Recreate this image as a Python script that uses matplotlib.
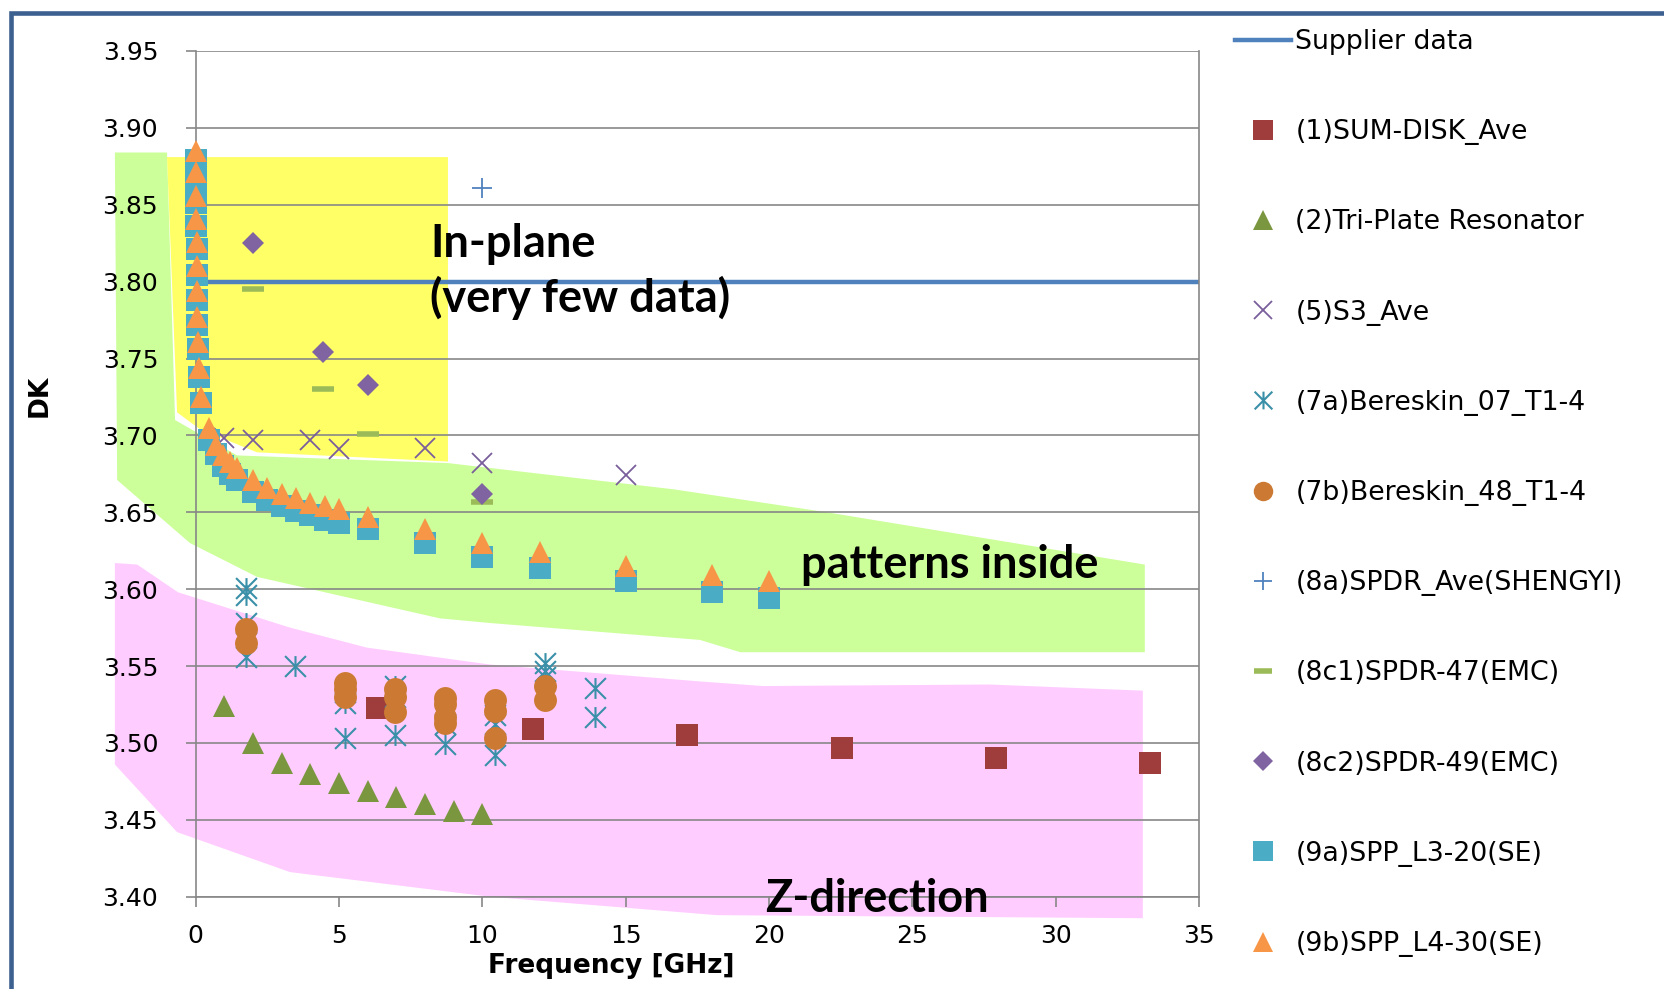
import matplotlib
matplotlib.use("Agg")
import matplotlib.pyplot as plt
from matplotlib.patches import Polygon, Rectangle
from matplotlib.path import Path

# ============================ Data ============================
supplier_f = [0, 35]
supplier_dk = [3.80, 3.80]

sum_disk_f = [6.33, 11.78, 17.15, 22.53, 27.91, 33.29]
sum_disk_dk = [3.523, 3.509, 3.505, 3.497, 3.490, 3.487]

triplate_f = [1, 2, 3, 4, 5, 6, 7, 8, 9, 10]
triplate_dk = [3.524, 3.500, 3.487, 3.480, 3.474, 3.469, 3.465, 3.460, 3.456, 3.454]

s3_f = [1, 2, 4, 5, 8, 10, 15]
s3_dk = [3.698, 3.697, 3.697, 3.691, 3.692, 3.682, 3.674]

ber07_f = [1.74, 1.74, 1.74, 1.74, 3.48, 5.22, 5.22, 5.22, 6.96, 6.96, 6.96,
           8.70, 8.70, 8.70, 10.44, 10.44, 10.44, 12.18, 12.18, 12.18, 13.92, 13.92]
ber07_dk = [3.601, 3.596, 3.578, 3.556, 3.550, 3.533, 3.526, 3.503, 3.537, 3.530, 3.505,
            3.522, 3.512, 3.499, 3.518, 3.512, 3.492, 3.552, 3.547, 3.543, 3.536, 3.517]

ber48_f = [1.74, 1.74, 5.22, 5.22, 5.22, 6.96, 6.96, 6.96,
           8.70, 8.70, 8.70, 8.70, 10.44, 10.44, 10.44, 12.18, 12.18]
ber48_dk = [3.574, 3.565, 3.539, 3.535, 3.530, 3.535, 3.530, 3.520,
            3.529, 3.525, 3.517, 3.513, 3.528, 3.521, 3.503, 3.537, 3.528]

spdr_sy_f = [10]
spdr_sy_dk = [3.861]

spdr47_f = [2, 4.45, 6, 10]
spdr47_dk = [3.795, 3.730, 3.701, 3.657]

spdr49_f = [2, 4.45, 6, 10]
spdr49_dk = [3.825, 3.754, 3.733, 3.662]

spp_f = [0.01, 0.015, 0.02, 0.025, 0.03, 0.04, 0.05, 0.06, 0.08, 0.1, 0.2,
         0.45, 0.7, 0.95, 1.2, 1.45, 2, 2.5, 3, 3.5, 4, 4.5, 5, 6, 8, 10, 12, 15, 18, 20]
spp_l3_dk = [3.879, 3.865, 3.851, 3.836, 3.821, 3.804, 3.788, 3.772, 3.756, 3.738, 3.721,
             3.697, 3.688, 3.680, 3.675, 3.671, 3.663, 3.658, 3.654, 3.651, 3.648, 3.645,
             3.643, 3.639, 3.630, 3.621, 3.614, 3.605, 3.598, 3.594]
spp_l4_dk = [3.885, 3.871, 3.856, 3.841, 3.826, 3.810, 3.794, 3.777, 3.761, 3.744, 3.725,
             3.705, 3.694, 3.687, 3.683, 3.679, 3.671, 3.666, 3.662, 3.659, 3.656, 3.654,
             3.652, 3.647, 3.639, 3.630, 3.624, 3.615, 3.609, 3.605]

labels = ["Supplier data", "(1)SUM-DISK_Ave", "(2)Tri-Plate Resonator", "(5)S3_Ave",
          "(7a)Bereskin_07_T1-4", "(7b)Bereskin_48_T1-4", "(8a)SPDR_Ave(SHENGYI)",
          "(8c1)SPDR-47(EMC)", "(8c2)SPDR-49(EMC)", "(9a)SPP_L3-20(SE)", "(9b)SPP_L4-30(SE)"]

# hand-drawn highlight regions (freq, DK)
green_zone = [(-2.82, 3.884), (-1.00, 3.884), (-0.72, 3.710), (1.44, 3.687), (8.80, 3.682),
              (16.65, 3.665), (22.02, 3.650), (33.11, 3.616), (33.11, 3.559), (19.0, 3.559),
              (17.59, 3.567), (10.26, 3.578), (8.52, 3.581), (2.14, 3.608), (-0.20, 3.630),
              (-2.74, 3.671)]
yellow_zone = [(-1.00, 3.881), (8.80, 3.881), (8.80, 3.683), (2.14, 3.689), (0.15, 3.704),
               (-0.65, 3.715)]
pink_zone = [(-2.82, 3.617), (-2.04, 3.616), (-0.62, 3.598), (3.29, 3.575), (5.97, 3.562),
             (10.26, 3.551), (17.59, 3.540), (19.79, 3.537), (27.70, 3.538), (33.04, 3.534),
             (33.04, 3.386), (18.18, 3.388), (10.26, 3.400), (3.29, 3.416), (-0.65, 3.442),
             (-2.82, 3.486)]

# ================================== Figure =======================================
W, H = 1665, 989
fig = plt.figure(figsize=(W / 100, H / 100), dpi=100)
ax = fig.add_axes([195.7 / W, 1 - 896.7 / H, (1199 - 195.7) / W, (896.7 - 51) / H])
ax.set_facecolor("none")

for pts, col in [(green_zone, "#CCFF99"), (yellow_zone, "#FFFF66"), (pink_zone, "#FFCCFF")]:
    ax.add_patch(Polygon(pts, closed=True, facecolor=col, edgecolor="none",
                         zorder=0.1, clip_on=False))

grid_col = "#878787"
asterisk = Path([(0, -0.5), (0, 0.5), (-0.5, -0.5), (0.5, 0.5), (-0.5, 0.5), (0.5, -0.5)],
                [Path.MOVETO, Path.LINETO, Path.MOVETO, Path.LINETO, Path.MOVETO, Path.LINETO])

big = 16.5
pt = dict(ls="none", zorder=3, clip_on=False)
h = []
h += ax.plot(supplier_f, supplier_dk, color="#4F81BD", lw=3.2, zorder=2)
h += ax.plot(sum_disk_f, sum_disk_dk, marker="s", ms=big, mew=0, color="#9E3D3B", **pt)
h += ax.plot(triplate_f, triplate_dk, marker="^", ms=big, mew=0, color="#7A973F", **pt)
h += ax.plot(s3_f, s3_dk, marker="x", ms=15, mew=1.3, color="#7A5E9C", **pt)
h += ax.plot(ber07_f, ber07_dk, marker=asterisk, ms=15, mew=1.5, color="#3A90A8", **pt)
h += ax.plot(ber48_f, ber48_dk, marker="o", ms=big, mew=0, color="#CC7A33", **pt)
h += ax.plot(spdr_sy_f, spdr_sy_dk, marker="+", ms=15, mew=1.3, color="#4F81BD", **pt)
h += ax.plot(spdr47_f, spdr47_dk, marker="_", ms=16, mew=4, color="#9BBB59", **pt)
h += ax.plot(spdr49_f, spdr49_dk, marker="D", ms=11.5, mew=0, color="#8064A2", **pt)
h += ax.plot(spp_f, spp_l3_dk, marker="s", ms=big, mew=0, color="#4BACC6", **pt)
h += ax.plot(spp_f, spp_l4_dk, marker="^", ms=big, mew=0, color="#F79646", **pt)

ax.set_xlim(0, 35)
ax.set_ylim(3.40, 3.95)
ax.set_xticks(range(0, 36, 5))
ax.set_yticks([3.40 + 0.05 * i for i in range(12)])
ax.yaxis.set_major_formatter(matplotlib.ticker.FormatStrFormatter("%.2f"))
ax.set_axisbelow(True)
ax.grid(axis="y", color=grid_col, lw=1.2)
for s in ["left", "bottom", "right"]:
    ax.spines[s].set_color(grid_col)
    ax.spines[s].set_linewidth(1.2)
ax.spines["top"].set_visible(False)
ax.tick_params(axis="y", length=7, width=1.2, color=grid_col, labelsize=18, pad=20)
ax.tick_params(axis="x", length=7, width=1.2, color=grid_col, labelsize=18, pad=13)

# annotations inside the plot
note = dict(fontfamily="Lato", fontweight="bold", fontsize=32.5, color="black", zorder=5)
ax.text(8.17, 3.816, "In-plane", ha="left", va="baseline", **note)
ax.text(8.17, 3.780, "(very few data)", ha="left", va="baseline", **note)
ax.text(21.1, 3.607, "patterns inside", ha="left", va="baseline", **note)
ax.text(19.85, 3.390, "Z-direction", ha="left", va="baseline", clip_on=False, **note)

fig.text(40 / W, 1 - 396 / H, "DK", rotation=90, ha="center", va="center",
         fontsize=19, fontweight="bold")
fig.text(611 / W, 1 - 966 / H, "Frequency [GHz]", ha="center", va="center",
         fontsize=19, fontweight="bold")

fig.legend(h, labels, loc="upper left", bbox_to_anchor=(1235 / W, 1 - 29 / H),
           frameon=False, fontsize=19.3, borderpad=0, borderaxespad=0,
           handlelength=2.1, handletextpad=0.15, labelspacing=2.395, markerscale=0.85)

# dark blue chart frame
fig.add_artist(Rectangle((11 / W, -0.1), 1.2, 1.1 - 13 / H, transform=fig.transFigure,
                         fill=False, edgecolor="#3C6090", lw=3.3))

fig.savefig("out.png", dpi=100)
